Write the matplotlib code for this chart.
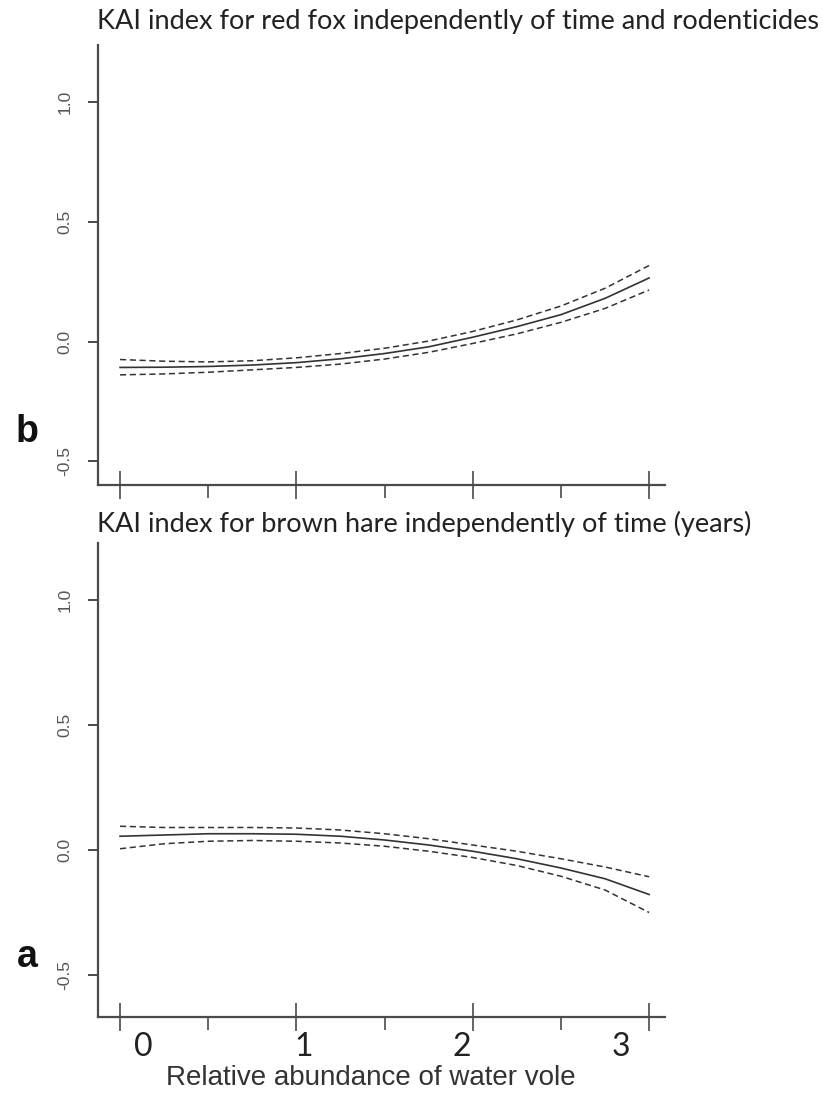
import matplotlib
matplotlib.use("Agg")
import matplotlib.pyplot as plt
from matplotlib.ticker import MultipleLocator
import matplotlib.transforms as mtrans

# ---------------- data ----------------
x_vole = [0, 0.25, 0.5, 0.75, 1.0, 1.25, 1.5, 1.75, 2.0, 2.25, 2.5, 2.75, 3.0]

fox_mean = [-0.108, -0.107, -0.104, -0.098, -0.088, -0.072, -0.050, -0.022, 0.018, 0.062, 0.112, 0.180, 0.265]
fox_upper = [-0.075, -0.082, -0.085, -0.080, -0.068, -0.050, -0.028, 0.002, 0.042, 0.090, 0.148, 0.222, 0.317]
fox_lower = [-0.139, -0.135, -0.128, -0.118, -0.108, -0.094, -0.073, -0.045, -0.008, 0.032, 0.080, 0.138, 0.215]

hare_mean = [0.055, 0.060, 0.065, 0.065, 0.063, 0.055, 0.040, 0.020, -0.005, -0.035, -0.072, -0.115, -0.178]
hare_upper = [0.095, 0.090, 0.090, 0.090, 0.088, 0.080, 0.065, 0.045, 0.020, -0.005, -0.035, -0.068, -0.107]
hare_lower = [0.005, 0.025, 0.035, 0.038, 0.035, 0.028, 0.015, -0.005, -0.030, -0.062, -0.105, -0.160, -0.250]

y_ticks = [-0.5, 0.0, 0.5, 1.0]
y_ticklabels = ["-0.5", "0.0", "0.5", "1.0"]
x_major = [0, 1, 2, 3]
x_ticklabels = ["0", "1", "2", "3"]

title_fox = "KAI index for red fox independently of time and rodenticides"
title_hare = "KAI index for brown hare independently of time (years)"
xlabel = "Relative abundance of water vole"

# ---------------- layout ----------------
W, H = 831, 1095
fig = plt.figure(figsize=(W / 100, H / 100), dpi=100)
fig.patch.set_facecolor("white")

def fx(px):
    return px / W

def fy(py):
    return 1 - py / H

AX_COL = "#4a4a4a"
LINE_COL = "#333333"

def style_axes(ax, ylim):
    ax.set_xlim(-0.125, 3.09)
    ax.set_ylim(*ylim)
    for s in ("top", "right"):
        ax.spines[s].set_visible(False)
    for s in ("left", "bottom"):
        ax.spines[s].set_color(AX_COL)
        ax.spines[s].set_linewidth(1.6)
    ax.set_yticks(y_ticks)
    ax.set_yticklabels(y_ticklabels, rotation=90, va="center",
                       fontsize=12.5, color="#555555", family="Liberation Sans")
    ax.tick_params(axis="y", direction="out", length=7.5, width=1.4,
                   color=AX_COL, pad=11)
    ax.set_xticks(x_major)
    ax.set_xticklabels([])
    ax.xaxis.set_minor_locator(MultipleLocator(0.5))
    ax.tick_params(axis="x", which="major", direction="inout", length=20,
                   width=1.2, color=AX_COL)
    ax.tick_params(axis="x", which="minor", direction="out", length=9,
                   width=1.2, color=AX_COL)
    ax.patch.set_alpha(0)

def draw(ax, mean, upper, lower):
    ax.plot(x_vole, mean, color=LINE_COL, lw=1.2, solid_joinstyle="round")
    ax.plot(x_vole, upper, color=LINE_COL, lw=1.1, linestyle=(0, (4, 2.4)))
    ax.plot(x_vole, lower, color=LINE_COL, lw=1.1, linestyle=(0, (4, 2.4)))

# top panel (fox): axis line y=485, top=45, 0.0 at 341.7, 240 px/unit
ax1 = fig.add_axes([fx(98), fy(485), fx(665) - fx(98), fy(45) - fy(485)])
style_axes(ax1, (-0.598, 1.236))
draw(ax1, fox_mean, fox_upper, fox_lower)

# bottom panel (hare): axis line y=1017, top=543, 0.0 at 850, 250 px/unit
ax2 = fig.add_axes([fx(98), fy(1017), fx(665) - fx(98), fy(543) - fy(1017)])
style_axes(ax2, (-0.668, 1.228))
draw(ax2, hare_mean, hare_upper, hare_lower)

# x tick labels (placed as in the reference, slightly offset)
label_pos = [0.13, 1.04, 1.94, 2.84]
trans = mtrans.blended_transform_factory(ax2.transData, fig.transFigure)
for p, t in zip(label_pos, x_ticklabels):
    ax2.text(p, fy(1047), t, transform=trans, ha="center", va="center",
             fontsize=23, family="Lato", color="#222222")

fig.text(fx(371), fy(1078), xlabel, ha="center", va="center",
         fontsize=20, family="Liberation Sans", color="#333333")

# titles
fig.text(fx(97), fy(22), title_fox, ha="left", va="center",
         fontsize=19.5, family="Lato", color="#222222")
fig.text(fx(97), fy(524), title_hare, ha="left", va="center",
         fontsize=19.5, family="Lato", color="#222222")

# panel letters
fig.text(fx(27), fy(432), "b", ha="center", va="center", fontsize=27,
         fontweight="bold", family="Liberation Sans", color="#111111")
fig.text(fx(27), fy(957), "a", ha="center", va="center", fontsize=27,
         fontweight="bold", family="Liberation Sans", color="#111111")

fig.savefig("out.png", dpi=100, facecolor="white")
